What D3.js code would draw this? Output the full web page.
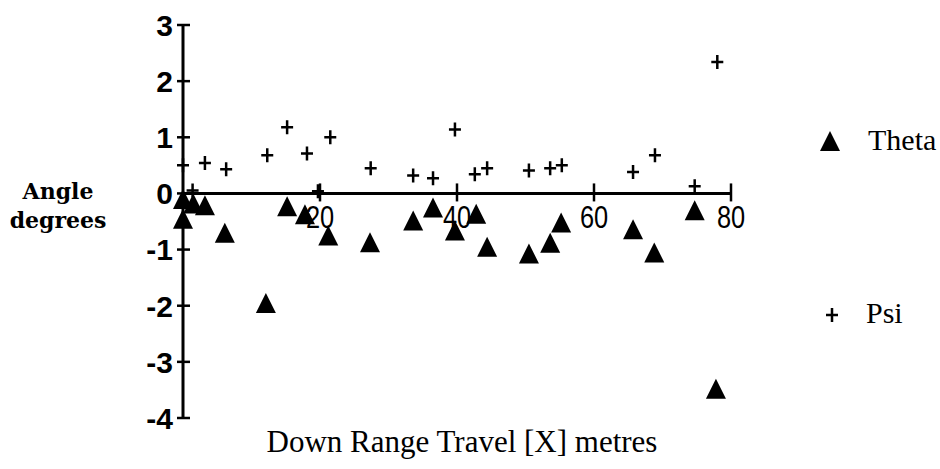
<!DOCTYPE html>
<html>
<head>
<meta charset="utf-8">
<title>Angle vs down range travel</title>
<script src="https://d3js.org/d3.v7.min.js"></script>
<style>
  body { margin: 0; background: white; }
  .ytick text { font-family: "Liberation Sans", Arial, sans-serif; font-size: 30px; font-weight: bold; }
  .xtick text { font-family: "Liberation Sans", sans-serif; font-size: 31px; }
  .title { font-family: "Liberation Serif", serif; fill: black; }
  .ylab { font-family: "DejaVu Serif", serif; font-size: 22px; font-weight: bold; }
</style>
</head>
<body>
<script>
// Theta (triangles)
var thetaX = [0, 1.5, 3.2, 0, 6.1, 12.1, 15.2, 17.8, 21.2, 27.3, 33.6, 36.5, 39.7, 42.8, 44.4, 50.5, 53.6, 55.2, 65.7, 68.8, 74.7, 77.8];
var thetaY = [-0.1, -0.18, -0.21, -0.45, -0.7, -1.95, -0.23, -0.37, -0.75, -0.87, -0.48, -0.25, -0.66, -0.36, -0.95, -1.07, -0.88, -0.52, -0.64, -1.05, -0.3, -3.48];
// Psi (crosses)
var psiX = [0, 1.4, 3.2, 6.3, 12.3, 15.2, 18.1, 19.7, 21.5, 27.4, 33.6, 36.5, 39.7, 42.6, 44.4, 50.5, 53.6, 55.3, 65.7, 68.9, 74.7, 78.0];
var psiY = [0.5, 0.05, 0.54, 0.43, 0.68, 1.18, 0.71, 0.04, 1.0, 0.45, 0.32, 0.27, 1.14, 0.34, 0.45, 0.41, 0.45, 0.5, 0.38, 0.68, 0.13, 2.34];

var xTicks = [20, 40, 60, 80];
var yTicks = [3, 2, 1, 0, -1, -2, -3, -4];

var W = 940, H = 469;

var svg = d3.select("body").append("svg")
  .attr("width", W)
  .attr("height", H)
  .style("background", "white");

var x = d3.scaleLinear().domain([0, 80]).range([183, 731]);
var y = d3.scaleLinear().domain([-4, 3]).range([418, 25]);

// y axis
var yAxis = svg.append("g").attr("class", "ytick");
yAxis.append("line")
  .attr("x1", x(0)).attr("x2", x(0))
  .attr("y1", y(3)).attr("y2", y(-4))
  .attr("stroke", "black").attr("stroke-width", 3);
yAxis.selectAll("line.t").data(yTicks).enter().append("line")
  .attr("class", "t")
  .attr("x1", x(0) - 6).attr("x2", x(0) + 7)
  .attr("y1", function(d) { return y(d); })
  .attr("y2", function(d) { return y(d); })
  .attr("stroke", "black").attr("stroke-width", 2.5);
yAxis.selectAll("text").data(yTicks).enter().append("text")
  .attr("x", x(0) - 10)
  .attr("y", function(d) { return y(d); })
  .attr("dy", "0.36em")
  .attr("text-anchor", "end")
  .text(function(d) { return d; });

// x axis
var xAxis = svg.append("g").attr("class", "xtick");
xAxis.append("line")
  .attr("x1", x(0)).attr("x2", x(80))
  .attr("y1", y(0)).attr("y2", y(0))
  .attr("stroke", "black").attr("stroke-width", 3);
xAxis.selectAll("line.t").data(xTicks).enter().append("line")
  .attr("class", "t")
  .attr("x1", function(d) { return x(d); })
  .attr("x2", function(d) { return x(d); })
  .attr("y1", y(0) - 10).attr("y2", y(0) + 8)
  .attr("stroke", "black").attr("stroke-width", 2.5);
// narrow digits: squeeze each label horizontally
xAxis.selectAll("text").data(xTicks).enter().append("text")
  .attr("transform", function(d) { return "translate(" + x(d) + "," + (y(0) + 35) + ") scale(0.82,1)"; })
  .attr("text-anchor", "middle")
  .text(function(d) { return d; });

// markers
var tri = "M0,-10L10,10L-10,10Z";
var cross = "M-6,0H6M0,-7V7";

var theta = thetaX.map(function(d, i) { return [d, thetaY[i]]; });
var psi = psiX.map(function(d, i) { return [d, psiY[i]]; });

svg.selectAll(".theta").data(theta).enter().append("path")
  .attr("class", "theta")
  .attr("d", tri)
  .attr("transform", function(d) { return "translate(" + x(d[0]) + "," + y(d[1]) + ")"; })
  .attr("fill", "black");

svg.selectAll(".psi").data(psi).enter().append("path")
  .attr("class", "psi")
  .attr("d", cross)
  .attr("transform", function(d) { return "translate(" + x(d[0]) + "," + y(d[1]) + ")"; })
  .attr("fill", "none")
  .attr("stroke", "black")
  .attr("stroke-width", 2.5);

// axis titles
svg.append("text").attr("class", "ylab")
  .attr("x", 58).attr("y", 199).attr("text-anchor", "middle").text("Angle");
svg.append("text").attr("class", "ylab")
  .attr("x", 58).attr("y", 228).attr("text-anchor", "middle").text("degrees");

svg.append("text").attr("class", "title")
  .attr("x", 462).attr("y", 452)
  .attr("text-anchor", "middle")
  .style("font-size", "31px")
  .text("Down Range Travel [X] metres");

// legend
var legend = svg.append("g");
legend.append("path").attr("d", tri)
  .attr("transform", "translate(830,141)").attr("fill", "black");
legend.append("text").attr("class", "title")
  .attr("x", 868).attr("y", 150).style("font-size", "30px").text("Theta");
legend.append("path").attr("d", cross)
  .attr("transform", "translate(832,315)")
  .attr("fill", "none").attr("stroke", "black").attr("stroke-width", 2.5);
legend.append("text").attr("class", "title")
  .attr("x", 866).attr("y", 323).style("font-size", "30px").text("Psi");
</script>
</body>
</html>
